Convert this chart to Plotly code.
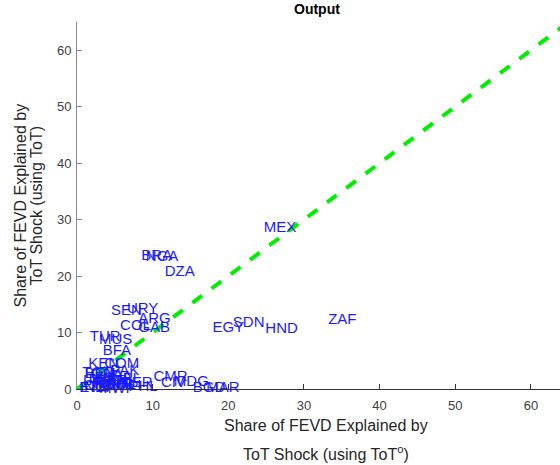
import plotly.graph_objects as go

countries = ["MEX", "BRA", "NGA", "DZA", "ZAF", "SDN", "EGY", "HND", "URY", "SEN",
             "ARG", "COL", "GAB", "TUR", "MUS", "BFA", "KEN", "COM", "PAK", "TGO",
             "GHA", "UGA", "CMR", "CIV", "MDG", "BGD", "MAR", "PHL", "MLI", "IND",
             "THA", "IDN", "PER", "CHL", "BOL", "ETH", "TZA", "RWA", "NPL", "LKA",
             "MWI", "ZMB", "BEN", "NER"]
tot_o = [24.7, 8.5, 9.1, 11.6, 33.2, 20.6, 17.9, 24.9, 6.6, 4.5,
         8.1, 5.7, 8.1, 1.7, 2.9, 3.4, 1.5, 3.6, 4.4, 0.7,
         1.8, 3.0, 10.1, 11.1, 12.8, 15.3, 17.1, 6.8, 5.2, 0.4,
         1.2, 2.2, 2.6, 0.9, 3.8, 0.3, 1.5, 2.0, 4.6, 0.8,
         2.9, 3.4, 1.0, 5.8]
tot = [28.4, 23.6, 23.4, 20.6, 12.1, 11.7, 10.8, 10.5, 14.2, 13.7,
       12.3, 11.2, 10.7, 9.2, 8.7, 6.7, 4.4, 4.3, 3.2, 2.8,
       2.4, 2.0, 2.1, 1.1, 1.2, 0.2, 0.2, 0.3, 0.4, 0.1,
       1.6, 0.9, 1.4, 0.5, 0.7, 0.2, 0.3, 1.0, 1.8, 1.3,
       0.0, 0.6, 2.6, 1.1]
diag = [0, 65]

fig = go.Figure()
fig.add_trace(go.Scatter(x=diag, y=diag, mode="lines",
                         line=dict(color="#00ee00", width=4, dash="dash"),
                         hoverinfo="skip"))
fig.add_trace(go.Scatter(x=tot_o, y=tot, mode="text", text=countries,
                         textposition="middle right",
                         textfont=dict(color="#1a1aff", size=15, family="Liberation Sans"),
                         cliponaxis=False))

axis_common = dict(showgrid=False, zeroline=False, showline=True,
                   linewidth=1, ticks="inside", ticklen=5,
                   mirror=False,
                   tickfont=dict(family="Liberation Sans", size=13, color="#404040"))
fig.update_xaxes(range=[0, 63.85], tickvals=[0, 10, 20, 30, 40, 50, 60],
                 linecolor="#333333", tickcolor="#333333", ticklabelstandoff=4,
                 **axis_common)
fig.update_yaxes(range=[0, 65], tickvals=[0, 10, 20, 30, 40, 50, 60],
                 linecolor="#888888", tickcolor="#888888", ticklabelstandoff=2,
                 **axis_common)

font_lbl = dict(family="Liberation Sans", size=16, color="#262626")
fig.update_layout(
    width=560, height=465,
    margin=dict(l=77, r=0, t=22, b=76),
    plot_bgcolor="white", paper_bgcolor="white",
    showlegend=False,
    annotations=[
        dict(text="<b>Output</b>", x=0.497, y=12, xref="paper", yref="paper",
             showarrow=False, font=dict(family="Liberation Sans", size=14, color="black")),
        dict(text="Share of FEVD Explained by", xref="paper", yref="paper",
             x=0.5155, y=-0.1008, xanchor="center", yanchor="middle",
             showarrow=False, font=font_lbl),
        dict(text="ToT Shock (using ToT<sup>o</sup>)", xref="paper", yref="paper",
             x=0.5155, y=-0.1744, xanchor="center", yanchor="middle",
             showarrow=False, font=font_lbl),
        dict(text="Share of FEVD Explained by", xref="paper", yref="paper",
             x=-0.118, y=0.5, xanchor="center", yanchor="middle",
             showarrow=False, textangle=-90, font=font_lbl),
        dict(text="ToT Shock (using ToT)", xref="paper", yref="paper",
             x=-0.083, y=0.5, xanchor="center", yanchor="middle",
             showarrow=False, textangle=-90, font=font_lbl),
    ],
)
# title annotation placed in pixels above plot
fig.layout.annotations[0].update(y=1, yref="paper", yanchor="bottom", yshift=3)
fig.write_html("out.html")
